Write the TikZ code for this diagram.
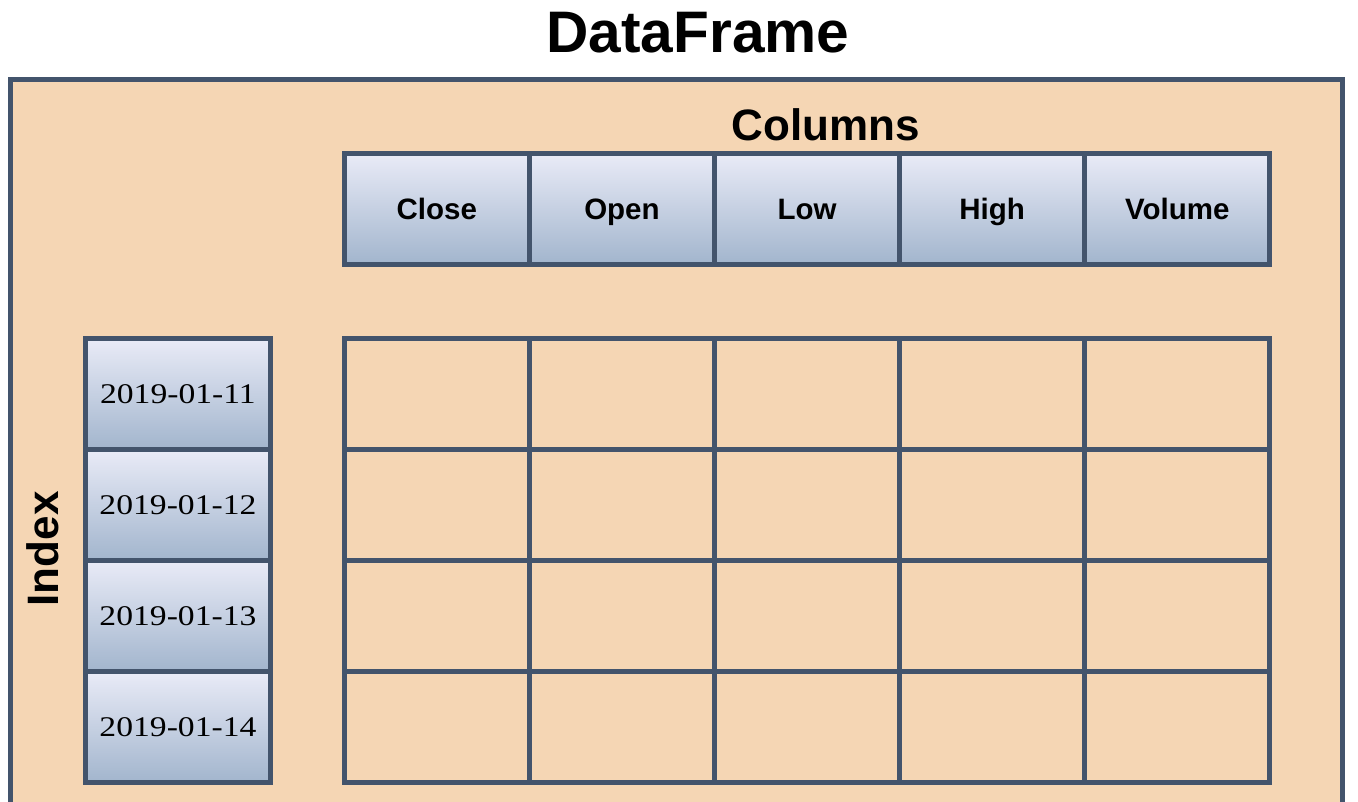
\documentclass[tikz,border=0pt]{standalone}
\usepackage{fontspec}
\setmainfont{Liberation Sans}
\newfontfamily\datefont[FakeStretch=1.18]{Liberation Serif}
\usepackage{tikz}
\definecolor{frameline}{RGB}{67,84,108}
\definecolor{framefill}{RGB}{245,214,180}
\definecolor{celltop}{RGB}{233,235,247}
\definecolor{cellbot}{RGB}{162,181,205}
\tikzstyle{cell}=[rectangle, anchor=north west, inner sep=0pt, outer sep=0pt,
                  minimum width=185.1pt, minimum height=111pt,
                  draw=frameline, line width=5pt]
\tikzstyle{hcell}=[cell, top color=celltop, bottom color=cellbot,
                   text height=21.2pt, text depth=0pt,
                   font=\bfseries\fontsize{29.5}{32}\selectfont]
\tikzstyle{icell}=[cell, top color=celltop, bottom color=cellbot,
                   text height=19.4pt, text depth=0pt,
                   font=\datefont\fontsize{28.5}{30}\selectfont]
\tikzstyle{gcell}=[cell, fill=framefill]
\tikzstyle{big}=[font=\bfseries\fontsize{44}{48}\selectfont, inner sep=0pt]

\begin{document}
\begin{tikzpicture}[x=1pt, y=-1pt]
    \useasboundingbox (0,0) rectangle (1358,802);
    \clip (0,0) rectangle (1358,802);
    \draw[frameline, line width=4.6pt, fill=framefill] (10.4,79.6) rectangle (1342.6,830);
    \node[font=\bfseries\fontsize{58.6}{62}\selectfont, inner sep=0pt, anchor=base]
        (title) at (698,53) {DataFrame};
    \node[big, anchor=base] (cols) at (825.5,141) {Columns};
    \node[big, rotate=90, anchor=base] (idx) at (58,549) {Index};
    \foreach \i/\name in {0/Close, 1/Open, 2/Low, 3/High, 4/Volume}
      \node[hcell] (h\i) at ({344.3+185.1*\i},153.4) {\name};
    \foreach \j/\day in {0/11, 1/12, 2/13, 3/14}
      \node[icell] (r\j) at (85.4,{338.5+111*\j}) {2019-01-\day};
    \foreach \i in {0,...,4}
      \foreach \j in {0,...,3}
        \node[gcell] (g\i\j) at ({344.3+185.1*\i},{338.5+111*\j}) {};
\end{tikzpicture}
\end{document}
